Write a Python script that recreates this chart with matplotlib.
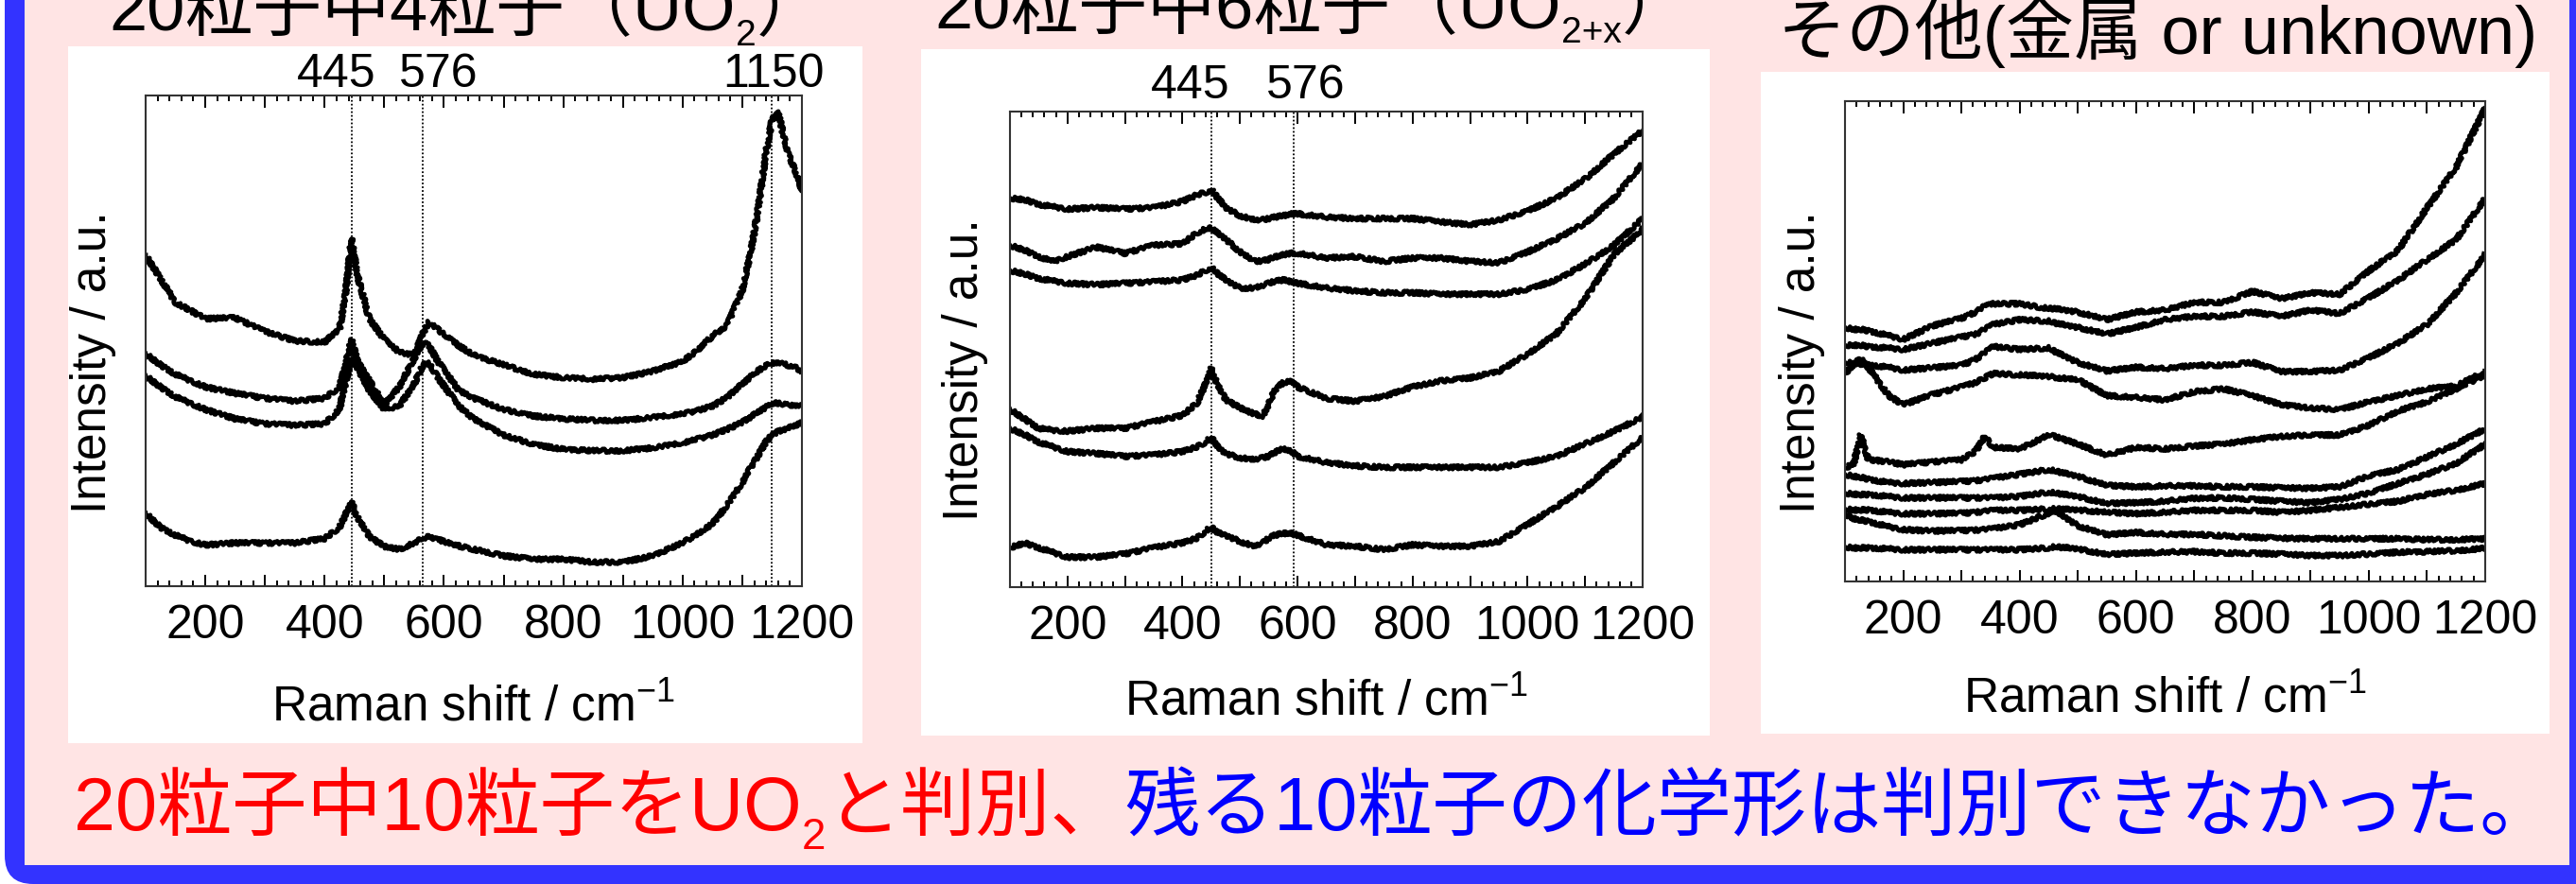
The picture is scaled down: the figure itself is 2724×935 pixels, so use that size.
import matplotlib
matplotlib.use('Agg')
import matplotlib.pyplot as plt
from matplotlib.patches import Rectangle, FancyBboxPatch
from matplotlib.ticker import MultipleLocator, FuncFormatter

plt.rcParams['font.family'] = ['Liberation Sans', 'Noto Sans CJK JP']
plt.rcParams['mathtext.fontset'] = 'custom'
plt.rcParams['mathtext.rm'] = 'Liberation Sans'
plt.rcParams['mathtext.it'] = 'Liberation Sans'
plt.rcParams['mathtext.default'] = 'regular'

W, H = 2724, 935

# ---- panel 1 : UO2 (4 particles) ----
x1 = [100, 125, 150, 175, 200, 250, 300, 350, 400, 425, 435, 445, 455, 475, 500, 525, 550, 565, 575, 590,
      625, 650, 700, 750, 800, 850, 900, 950, 1000, 1025, 1050, 1075, 1100, 1115, 1125, 1140, 1150, 1160,
      1175, 1190, 1200]
uo2_a = [67.5, 62.7, 57.8, 56.2, 54.5, 54.7, 51.9, 50.0, 49.7, 52.5, 59.4, 70.8, 63.3, 54.5, 50.3, 47.7, 47.1,
         51.6, 53.9, 52.3, 49.0, 47.1, 45.1, 43.2, 42.5, 42.2, 42.5, 43.8, 45.8, 48.1, 51.0, 53.2, 60.4, 68.5,
         75.6, 88.6, 95.1, 96.8, 88.6, 84.4, 80.8]
uo2_b = [47.4, 45.1, 43.2, 41.9, 40.6, 39.3, 38.3, 37.7, 38.3, 40.6, 45.1, 50.3, 45.8, 41.9, 37.0, 40.6, 46.4,
         49.7, 49.0, 45.8, 39.9, 38.3, 36.0, 34.7, 34.1, 33.8, 33.8, 34.4, 35.1, 35.8, 36.7, 38.5, 41.2, 42.8,
         43.8, 45.0, 45.5, 45.5, 45.1, 44.5, 43.8]
uo2_c = [42.9, 40.6, 38.6, 37.3, 36.0, 34.1, 33.1, 32.8, 33.1, 36.0, 41.5, 46.4, 44.5, 39.9, 36.0, 36.7, 41.2,
         45.1, 45.5, 42.5, 36.7, 34.1, 30.8, 28.9, 27.9, 27.6, 27.6, 28.2, 29.2, 30.0, 30.8, 32.0, 33.4, 34.5,
         35.4, 36.5, 37.3, 37.3, 37.0, 36.8, 36.7]
uo2_d = [14.9, 12.0, 10.4, 9.2, 8.4, 8.8, 8.8, 8.8, 9.7, 12.0, 14.5, 17.2, 14.0, 10.1, 8.1, 7.5, 8.8, 9.8,
         10.1, 9.5, 8.2, 7.5, 6.2, 5.5, 5.5, 4.9, 4.9, 6.2, 8.8, 10.7, 12.7, 16.6, 21.1, 24.4, 26.3, 29.5,
         30.8, 31.5, 32.1, 32.8, 33.4]
lines1 = [445, 564, 1150]
labels1 = ['445', '576', '1150']
label_dx1 = [-16, 17, 2]

# ---- panel 2 : UO2+x (6 particles) ----
x2 = [100, 125, 150, 175, 200, 250, 300, 350, 400, 425, 440, 450, 460, 475, 500, 525, 540, 550, 560, 575,
      590, 600, 650, 700, 750, 800, 850, 900, 950, 1000, 1050, 1100, 1150, 1200]
uo2x_a = [81.8, 81.5, 80.5, 80.0, 79.5, 79.8, 79.5, 79.8, 81.1, 82.5, 83.0, 83.6, 82.0, 79.8, 78.1, 77.2,
          77.2, 77.5, 77.8, 78.1, 78.5, 78.5, 77.8, 77.5, 77.5, 77.5, 76.8, 76.2, 77.2, 79.1, 81.8, 85.8,
          91.1, 96.0]
uo2x_b = [71.9, 70.9, 69.5, 68.5, 69.5, 71.5, 70.2, 71.9, 72.2, 74.5, 75.3, 75.5, 74.5, 73.2, 70.5, 68.5,
          68.6, 68.9, 69.4, 69.9, 70.2, 70.2, 69.2, 69.5, 68.5, 69.2, 69.2, 68.5, 68.2, 70.5, 73.2, 76.5,
          81.8, 89.1]
uo2x_c = [66.6, 65.9, 64.9, 64.4, 63.9, 63.6, 63.9, 64.2, 64.6, 65.6, 66.6, 67.2, 66.0, 64.6, 62.9, 62.9,
          63.4, 63.9, 64.3, 64.6, 64.2, 63.9, 62.9, 62.3, 61.9, 61.9, 61.6, 61.6, 61.6, 62.6, 64.6, 67.9,
          71.9, 77.5]
uo2x_d = [37.4, 35.4, 33.4, 33.0, 32.8, 33.4, 33.4, 34.8, 36.1, 38.7, 42.7, 46.0, 42.7, 39.4, 37.7, 36.4,
          36.0, 38.5, 41.4, 43.0, 43.4, 42.1, 39.7, 39.1, 40.1, 42.1, 43.4, 44.0, 45.4, 49.0, 53.3, 60.6,
          69.9, 75.2]
uo2x_e = [33.4, 32.1, 30.5, 29.5, 28.5, 28.1, 27.5, 27.8, 28.5, 29.5, 30.5, 31.5, 29.6, 28.1, 27.2, 26.8,
          27.2, 27.5, 28.3, 29.1, 28.5, 27.5, 26.2, 25.5, 25.2, 25.2, 25.2, 25.2, 25.2, 26.2, 27.5, 30.1,
          32.8, 35.8]
uo2x_f = [8.3, 9.3, 8.3, 7.3, 6.3, 6.3, 7.0, 8.3, 9.3, 10.3, 11.8, 12.6, 11.5, 10.9, 9.6, 8.6, 9.3, 10.3,
          10.9, 11.3, 11.3, 10.9, 8.9, 8.6, 7.9, 8.9, 8.6, 8.6, 9.6, 13.2, 16.9, 20.9, 26.2, 31.5]
lines2 = [450, 593]
labels2 = ['445', '576']
label_dx2 = [-22, 13]

# ---- panel 3 : others ----
x3 = [100, 115, 127, 140, 175, 200, 250, 300, 325, 340, 355, 400, 450, 460, 500, 550, 600, 650, 700, 750,
      800, 850, 900, 950, 1000, 1050, 1100, 1150, 1200]
oth_1 = [52.9, 52.5, 52.5, 52.2, 51.2, 50.4, 53.2, 54.8, 56.1, 57.3, 57.8, 57.8, 56.8, 56.8, 56.1, 54.5,
         56.1, 56.5, 58.1, 58.1, 60.4, 58.9, 60.1, 59.8, 64.7, 68.9, 77.8, 86.3, 98.5]
oth_2 = [49.2, 49.2, 49.2, 48.9, 48.6, 48.3, 49.6, 50.9, 51.5, 52.5, 53.5, 54.5, 54.2, 53.8, 52.9, 51.5,
         52.9, 54.5, 55.2, 55.2, 56.1, 55.2, 56.5, 55.8, 59.1, 62.7, 67.0, 71.2, 79.8]
oth_3 = [45.6, 45.5, 45.3, 45.1, 44.6, 44.0, 44.5, 45.0, 46.3, 47.6, 48.9, 48.3, 48.6, 47.9, 45.6, 43.8,
         44.6, 44.3, 45.0, 45.0, 45.6, 43.7, 43.7, 44.0, 46.6, 49.6, 53.5, 60.1, 68.0]
oth_4 = [43.3, 45.3, 46.4, 44.6, 38.7, 36.8, 38.9, 40.5, 41.4, 42.4, 43.3, 43.0, 42.7, 42.5, 42.0, 38.7,
         38.3, 37.8, 39.5, 40.1, 38.7, 36.8, 36.1, 35.8, 37.4, 38.7, 40.1, 40.7, 43.7]
oth_5 = [23.6, 24.6, 30.5, 25.4, 24.9, 24.3, 24.9, 25.3, 27.2, 30.2, 27.9, 27.6, 30.5, 30.2, 28.6, 26.3,
         27.9, 27.6, 28.2, 28.6, 29.5, 30.2, 30.5, 30.5, 32.5, 35.5, 37.4, 40.1, 43.0]
oth_6 = [22.3, 21.9, 21.7, 21.3, 20.6, 20.4, 20.6, 20.8, 21.0, 21.2, 21.5, 22.3, 23.3, 23.0, 21.9, 20.0,
         19.7, 19.9, 19.9, 19.7, 19.7, 19.5, 19.4, 19.7, 22.0, 23.3, 25.9, 28.6, 31.8]
oth_7 = [18.4, 18.2, 18.1, 18.1, 17.7, 17.4, 17.4, 17.4, 17.4, 17.4, 17.4, 17.7, 18.6, 18.4, 17.7, 16.2,
         16.4, 16.7, 17.3, 17.4, 17.1, 16.7, 16.4, 17.1, 18.4, 20.4, 22.3, 24.6, 28.6]
oth_8 = [15.1, 14.9, 14.9, 14.9, 14.4, 14.1, 14.1, 14.2, 14.4, 14.6, 14.8, 14.8, 15.1, 15.1, 14.9, 14.4,
         14.1, 14.4, 14.8, 14.8, 14.8, 14.4, 14.8, 15.4, 16.1, 16.7, 18.1, 19.0, 20.4]
oth_9 = [14.1, 13.1, 12.8, 12.5, 11.4, 10.8, 10.5, 10.6, 10.7, 10.8, 11.0, 11.8, 14.2, 14.8, 11.6, 9.7,
         10.2, 9.8, 9.8, 9.5, 9.2, 9.0, 8.9, 8.9, 8.9, 8.9, 8.7, 8.7, 8.9]
oth_10 = [7.2, 7.0, 7.0, 7.0, 6.8, 6.6, 6.6, 6.6, 6.6, 6.6, 6.6, 6.6, 7.0, 7.2, 6.8, 5.6, 5.9, 6.1, 6.2,
          5.9, 5.9, 5.7, 5.4, 5.4, 5.7, 6.1, 6.2, 6.4, 6.9]

RED = '#FF0000'
BLUE = '#0000FF'
PINK = '#FFE4E4'
FRAME = '#3333FF'


def px_rect(l, t, r, b):
    return [l / W, (H - b) / H, (r - l) / W, (b - t) / H]


def rich_text(ax, x, y, parts):
    # parts: (text, color, size, dy) laid out left to right, centred on x
    r = ax.figure.canvas.get_renderer()
    items = []
    for s, c, size, dy in parts:
        t = ax.text(0, 0, s, color=c, fontsize=size, ha='left', va='baseline')
        items.append((t, t.get_window_extent(r).width, dy))
    cx = x - sum(w for _, w, _ in items) / 2
    for t, w, dy in items:
        t.set_position((cx, y + dy))
        cx += w


def spectrum_axes(rect, label_xy, ylabel_x):
    ax = fig.add_axes(rect)
    ax.set_xlim(100, 1200)
    ax.set_ylim(0, 100)
    ax.xaxis.set_major_locator(MultipleLocator(100))
    ax.xaxis.set_minor_locator(MultipleLocator(20))
    ax.xaxis.set_major_formatter(FuncFormatter(lambda v, p: '%d' % v if round(v) % 200 == 0 else ''))
    ax.set_yticks([])
    ax.tick_params(axis='x', which='both', direction='in', top=True, bottom=True, width=1.4,
                   labelsize=36, pad=14, colors='black')
    ax.tick_params(axis='x', which='major', length=9)
    ax.tick_params(axis='x', which='minor', length=4.5)
    for s in ax.spines.values():
        s.set_linewidth(1.5)
        s.set_edgecolor('#333333')
    ax.set_xlabel('Raman shift / cm$^{-1}$', fontsize=37)
    ax.xaxis.set_label_coords(0.5, label_xy)
    ax.xaxis.label.set_va('baseline')
    ax.set_ylabel('Intensity / a.u.', fontsize=37)
    ax.yaxis.set_label_coords(ylabel_x, 0.457)
    return ax


def spectrum(ax, x, y):
    ln, = ax.plot(x, y, color='black', lw=3.4, solid_joinstyle='round')
    # jittery stroke, like the measured spectra
    ln.set_sketch_params(scale=2.0, length=3.0, randomness=6.0)


fig = plt.figure(figsize=(W / 100, H / 100), dpi=100)
fig.patch.set_facecolor('white')

bg = fig.add_axes([0, 0, 1, 1])
bg.set_xlim(0, W)
bg.set_ylim(H, 0)
bg.axis('off')
bg.add_patch(FancyBboxPatch((5, -100), 2800, H + 100, boxstyle='round,pad=0,rounding_size=30',
                            facecolor=FRAME, edgecolor='none'))
bg.add_patch(Rectangle((26, -10), 2717 - 26, 915 + 10, facecolor=PINK, edgecolor='none'))
for l, t, r, b in [(72, 49, 912, 786), (974, 52, 1808, 778), (1862, 76, 2696, 776)]:
    bg.add_patch(Rectangle((l, t), r - l, b - t, facecolor='white', edgecolor='none'))

# titles
rich_text(bg, 494, 32, [('20粒子中4粒子（UO', 'black', 52, 0), ('2', 'black', 28, 16),
                        ('）', 'black', 52, 0)])
rich_text(bg, 1388, 30, [('20粒子中6粒子（UO', 'black', 52, 0), ('2+x', 'black', 28, 15),
                         ('）', 'black', 52, 0)])
rich_text(bg, 2282, 57, [('その他(金属 or unknown)', 'black', 52, 0)])

# conclusion line
rich_text(bg, 1390, 878, [('20粒子中10粒子をUO', RED, 57, 0), ('2', RED, 33, 20), ('と判別、', RED, 57, 0),
                          ('残る10粒子の化学形は判別できなかった。', BLUE, 57, 0)])

ax1 = spectrum_axes(px_rect(154, 101, 848, 620), -0.2755, -0.0447)
for y in [uo2_a, uo2_b, uo2_c, uo2_d]:
    spectrum(ax1, x1, y)
for xv, lab, dx in zip(lines1, labels1, label_dx1):
    ax1.axvline(xv, color='black', lw=1.3, ls=(0, (1, 1.2)))
    ax1.annotate(lab, xy=(xv, 1), xycoords=('data', 'axes fraction'), xytext=(dx * 0.72, 6.5),
                 textcoords='offset points', ha='center', va='baseline', fontsize=36)

ax2 = spectrum_axes(px_rect(1068, 118, 1737, 621), -0.270, -0.0344)
for y in [uo2x_a, uo2x_b, uo2x_c, uo2x_d, uo2x_e, uo2x_f]:
    spectrum(ax2, x2, y)
for xv, lab, dx in zip(lines2, labels2, label_dx2):
    ax2.axvline(xv, color='black', lw=1.3, ls=(0, (1, 1.2)))
    ax2.annotate(lab, xy=(xv, 1), xycoords=('data', 'axes fraction'), xytext=(dx * 0.72, 10),
                 textcoords='offset points', ha='center', va='baseline', fontsize=36)

ax3 = spectrum_axes(px_rect(1951, 107, 2628, 615), -0.274, -0.031)
for y in [oth_1, oth_2, oth_3, oth_4, oth_5, oth_6, oth_7, oth_8, oth_9, oth_10]:
    spectrum(ax3, x3, y)

fig.savefig('out.png', dpi=100, facecolor=fig.get_facecolor())
